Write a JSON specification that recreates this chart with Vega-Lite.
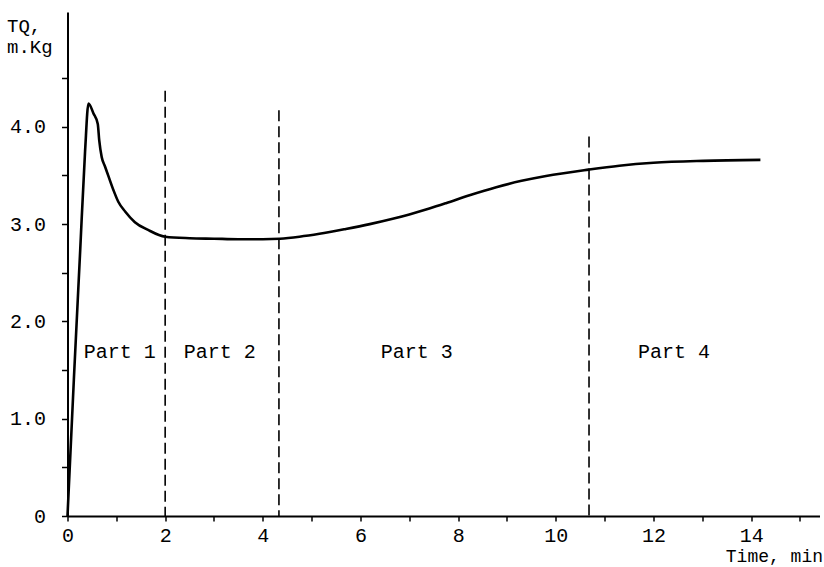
{
  "$schema": "https://vega.github.io/schema/vega-lite/v6.json",
  "width": 752,
  "height": 504,
  "autosize": {"type": "none"},
  "padding": {"left": 67.5, "top": 12, "right": 4.5, "bottom": 51},
  "background": "white",
  "config": {
    "view": {"stroke": null},
    "font": "Liberation Mono",
    "axis": {"labelFont": "Liberation Mono", "titleFont": "Liberation Mono", "labelColor": "black", "titleColor": "black", "titleFontWeight": "normal", "domainColor": "black", "tickColor": "black", "grid": false}
  },
  "datasets": {
    "curve": [
      {"t": 0, "tq": 0},
      {"t": 0.13, "tq": 1.4},
      {"t": 0.26, "tq": 2.73},
      {"t": 0.36, "tq": 3.75},
      {"t": 0.43, "tq": 4.24},
      {"t": 0.53, "tq": 4.14},
      {"t": 0.62, "tq": 4.03},
      {"t": 0.65, "tq": 3.86},
      {"t": 0.70, "tq": 3.69},
      {"t": 0.77, "tq": 3.59},
      {"t": 0.84, "tq": 3.49},
      {"t": 0.94, "tq": 3.35},
      {"t": 1.04, "tq": 3.23},
      {"t": 1.18, "tq": 3.13},
      {"t": 1.38, "tq": 3.02},
      {"t": 1.65, "tq": 2.94},
      {"t": 2.0, "tq": 2.87},
      {"t": 2.5, "tq": 2.855},
      {"t": 3.0, "tq": 2.85},
      {"t": 3.5, "tq": 2.845},
      {"t": 4.0, "tq": 2.845},
      {"t": 4.35, "tq": 2.85},
      {"t": 4.75, "tq": 2.87},
      {"t": 5.16, "tq": 2.9},
      {"t": 5.7, "tq": 2.95},
      {"t": 6.19, "tq": 3.0},
      {"t": 6.66, "tq": 3.055},
      {"t": 7.0, "tq": 3.1},
      {"t": 7.41, "tq": 3.16},
      {"t": 7.75, "tq": 3.215},
      {"t": 8.25, "tq": 3.3},
      {"t": 8.78, "tq": 3.38},
      {"t": 9.3, "tq": 3.445},
      {"t": 9.8, "tq": 3.495},
      {"t": 10.67, "tq": 3.56},
      {"t": 11.3, "tq": 3.6},
      {"t": 12.0, "tq": 3.63},
      {"t": 13.02, "tq": 3.65},
      {"t": 14.19, "tq": 3.66}
    ],
    "dividers": [
      {"t": 2.0, "top": 4.37, "bottom": 0},
      {"t": 4.33, "top": 4.17, "bottom": 0},
      {"t": 10.68, "top": 3.9, "bottom": 0}
    ],
    "parts": [
      {"t": 1.07, "tq": 1.69, "label": "Part 1"},
      {"t": 3.12, "tq": 1.69, "label": "Part 2"},
      {"t": 7.15, "tq": 1.69, "label": "Part 3"},
      {"t": 12.42, "tq": 1.69, "label": "Part 4"}
    ]
  },
  "layer": [
    {
      "data": {"name": "curve"},
      "mark": {"type": "line", "color": "black", "strokeWidth": 2.6, "interpolate": "monotone"},
      "encoding": {
        "x": {"field": "t", "type": "quantitative", "scale": {"domain": [0, 15.4], "nice": false, "zero": false},
          "axis": {
            "values": [0, 1, 2, 3, 4, 5, 6, 7, 8, 9, 10, 11, 12, 13, 14, 15],
            "labelExpr": "datum.value % 2 == 0 ? datum.label : ''",
            "labelFontSize": 20, "labelPadding": 4, "tickSize": 5, "tickWidth": 1.5, "domainWidth": 2,
            "labelFlush": false, "labelOverlap": false,
            "title": "Time, min", "titleFontSize": 18, "titleAlign": "right",
            "titleX": 755, "titleY": 45, "titleBaseline": "alphabetic"
          }},
        "y": {"field": "tq", "type": "quantitative", "scale": {"domain": [0, 5.18], "nice": false},
          "axis": {
            "values": [0, 0.5, 1, 1.5, 2, 2.5, 3, 3.5, 4, 4.5],
            "labelExpr": "datum.value % 1 == 0 ? (datum.value == 0 ? '0' : format(datum.value, '.1f')) : ''",
            "labelFontSize": 20, "labelPadding": 16, "tickSize": 6, "tickWidth": 1.5, "domainWidth": 2,
            "labelFlush": false, "labelOverlap": false,
            "title": ["TQ,", "m.Kg"], "titleFontSize": 19, "titleAngle": 0, "titleAlign": "left",
            "titleBaseline": "top", "titleX": -61, "titleY": 4, "titleLineHeight": 21
          }}
      }
    },
    {
      "data": {"name": "dividers"},
      "mark": {"type": "rule", "color": "black", "strokeWidth": 1.6, "strokeDash": [11, 5]},
      "encoding": {
        "x": {"field": "t", "type": "quantitative"},
        "y": {"field": "top", "type": "quantitative"},
        "y2": {"field": "bottom"}
      }
    },
    {
      "data": {"name": "parts"},
      "mark": {"type": "text", "color": "black", "fontSize": 20, "font": "Liberation Mono", "align": "center", "baseline": "middle"},
      "encoding": {
        "x": {"field": "t", "type": "quantitative"},
        "y": {"field": "tq", "type": "quantitative"},
        "text": {"field": "label"}
      }
    }
  ]
}
